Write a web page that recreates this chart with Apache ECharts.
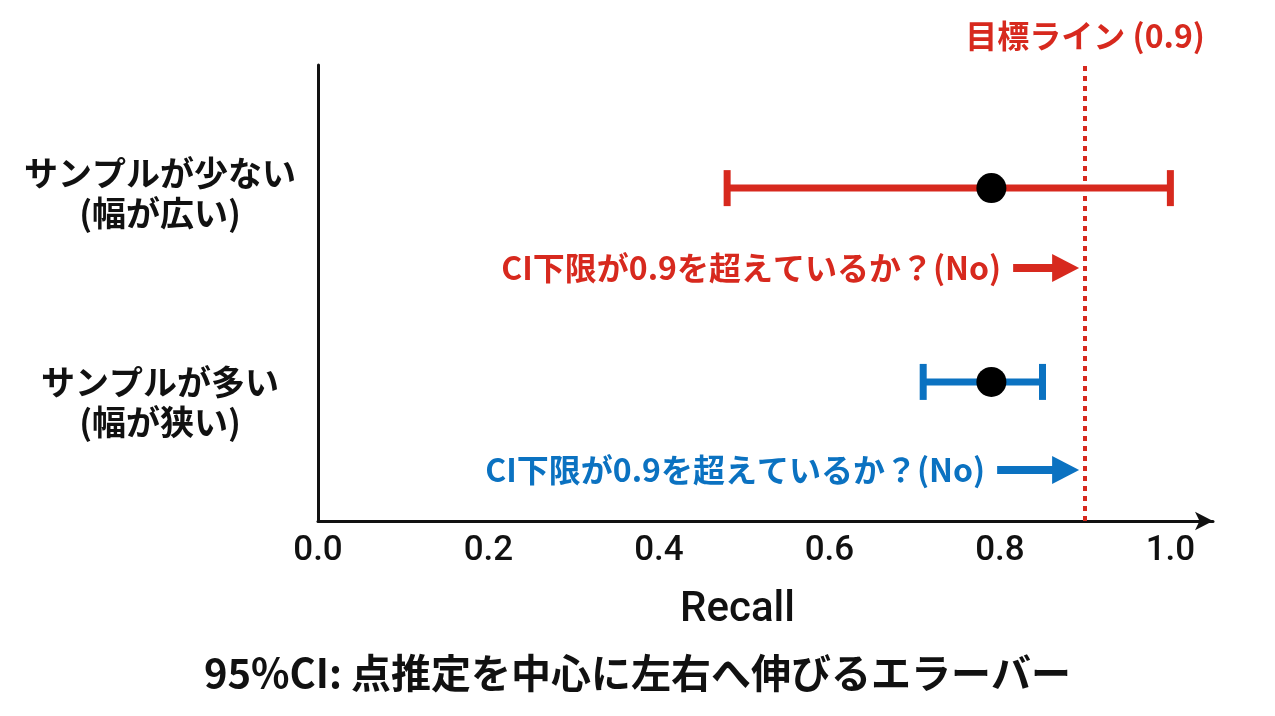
<!DOCTYPE html>
<html>
<head>
<meta charset="utf-8">
<script src="https://cdn.jsdelivr.net/npm/echarts@6/dist/echarts.min.js"></script>
<style>
  html, body { margin: 0; padding: 0; background: #fff; }
  #chart { width: 1275px; height: 716px; }
</style>
</head>
<body>
<div id="chart"></div>
<script>
// rows of the chart (top to bottom)
var categories = ['サンプルが少ない\n(幅が広い)', 'サンプルが多い\n(幅が狭い)'];
var labelY = [7.2, 2.6];
var estimate = [0.79, 0.79];
var lower = [0.48, 0.71];
var upper = [1.0, 0.85];
var rowY = [7.3, 3.05];
var noteY = [5.55, 1.12];
var notes = ['CI下限が0.9を超えているか？(No)', 'CI下限が0.9を超えているか？(No)'];
var target = 0.9;
var xTicks = [0, 0.2, 0.4, 0.6, 0.8, 1.0];

var colors = ['#d7291e', '#0b72c1'];
var arrowLen = [66, 82];
var jp = '"Noto Sans CJK JP", "Noto Sans", sans-serif';

var chart = echarts.init(document.getElementById('chart'));

function renderBar(params, api) {
    var y = api.value(2);
    var lo = api.coord([api.value(0), y]);
    var hi = api.coord([api.value(1), y]);
    var c = colors[params.dataIndex];
    var st = {stroke: c, lineWidth: 7};
    return {
        type: 'group',
        children: [
            {type: 'line', shape: {x1: lo[0], y1: lo[1], x2: hi[0], y2: hi[1]}, style: st},
            {type: 'line', shape: {x1: lo[0], y1: lo[1] - 18, x2: lo[0], y2: lo[1] + 18}, style: st},
            {type: 'line', shape: {x1: hi[0], y1: hi[1] - 18, x2: hi[0], y2: hi[1] + 18}, style: st}
        ]
    };
}

function renderNote(params, api) {
    var i = params.dataIndex;
    var p = api.coord([api.value(0), api.value(1)]);
    var tip = p[0] - 6;
    var start = tip - arrowLen[i];
    var c = colors[i];
    return {
        type: 'group',
        children: [
            {type: 'line', shape: {x1: start, y1: p[1], x2: tip - 22, y2: p[1]}, style: {stroke: c, lineWidth: 8}},
            {type: 'polygon', shape: {points: [[tip, p[1]], [tip - 27, p[1] - 14], [tip - 27, p[1] + 14]]}, style: {fill: c}},
            {type: 'text', x: start - 12, y: p[1], style: {
                text: notes[i], fill: c, font: 'bold 32px ' + jp,
                align: 'right', verticalAlign: 'middle'
            }}
        ]
    };
}

chart.setOption({
    backgroundColor: '#fff',
    animation: false,
    title: {
        text: '95%CI: 点推定を中心に左右へ伸びるエラーバー',
        left: 'center',
        top: 648,
        textStyle: {fontFamily: jp, fontSize: 40, fontWeight: 'bold', color: '#111'}
    },
    grid: {left: 318, right: 62, top: 65, bottom: 195},
    xAxis: {
        type: 'value',
        min: 0,
        max: 1.05,
        name: 'Recall',
        nameLocation: 'middle',
        nameGap: 68,
        nameTextStyle: {
            fontFamily: 'Roboto, sans-serif', fontSize: 42, fontWeight: 500, color: '#111',
            padding: [0, 56, 0, 0]
        },
        axisLine: {lineStyle: {color: '#111', width: 3}, symbol: ['none', 'arrow'], symbolSize: [14, 18]},
        axisTick: {show: false},
        splitLine: {show: false},
        axisLabel: {
            customValues: xTicks,
            margin: 13,
            fontFamily: 'Roboto, sans-serif',
            fontSize: 35,
            fontWeight: 500,
            color: '#111',
            formatter: function (v) { return v.toFixed(1); }
        }
    },
    yAxis: {
        type: 'value',
        min: 0,
        max: 10,
        axisLine: {show: true, lineStyle: {color: '#111', width: 3}},
        axisTick: {show: false},
        splitLine: {show: false},
        axisLabel: {
            customValues: labelY,
            margin: 158,
            align: 'center',
            fontFamily: jp,
            fontSize: 34,
            fontWeight: 'bold',
            lineHeight: 40,
            color: '#111',
            formatter: function (v) {
                return categories[labelY.indexOf(v)];
            }
        }
    },
    series: [
        {
            type: 'custom',
            renderItem: renderBar,
            data: lower.map(function (l, i) { return [l, upper[i], rowY[i]]; }),
            z: 2
        },
        {
            type: 'scatter',
            symbol: 'circle',
            symbolSize: 30,
            itemStyle: {color: '#000', opacity: 1},
            data: estimate.map(function (e, i) { return [e, rowY[i]]; }),
            z: 5
        },
        {
            type: 'custom',
            renderItem: renderNote,
            data: noteY.map(function (y) { return [target, y]; }),
            z: 3,
            markLine: {
                silent: true,
                symbol: 'none',
                lineStyle: {color: colors[0], type: [5, 5], width: 4},
                label: {
                    position: 'end',
                    formatter: '目標ライン (0.9)',
                    color: colors[0],
                    fontFamily: jp,
                    fontSize: 32,
                    fontWeight: 'bold',
                    distance: 13
                },
                data: [{xAxis: target}]
            }
        }
    ]
});
</script>
</body>
</html>
